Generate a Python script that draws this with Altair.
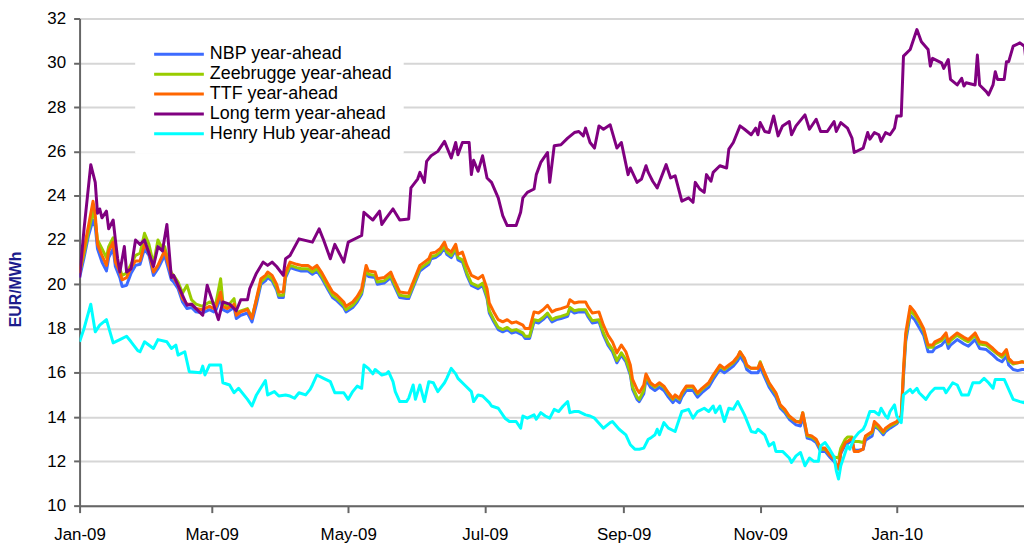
import altair as alt
import pandas as pd

SERIES = ["NBP year-ahead", "Zeebrugge year-ahead", "TTF year-ahead",
          "Long term year-ahead", "Henry Hub year-ahead"]
COLORS = ["#3d6bff", "#99cc00", "#ff6600", "#800080", "#00ffff"]

# (days since 2009-01-01, EUR/MWh)
TTF = [(0,20.5),(2,21.6),(4,22.65),(6,23.75),(7,23.15),(8,21.8),(10,21.3),(12,20.85),(13,21.5),(15,21.9),
       (16,21.0),(18,20.55),(19,20.2),(21,20.3),(23,20.75),(25,21.05),(27,21.05),(29,21.8),(31,21.45),(33,20.55),
       (35,20.85),(37,21.3),(38,21.5),(41,20.4),(42,20.3),(44,19.95),(46,19.35),(48,19.1),(50,19.1),(52,18.9),
       (55,18.85),(58,19.0),(60,18.9),(61,19.0),(63,19.65),(64,19.0),(66,18.9),(69,19.1),(70,18.6),(72,18.75),
       (75,18.85),(77,18.45),(79,19.35),(81,20.25),(83,20.4),(84,20.55),(86,20.4),(88,20.0),(89,19.65),(91,19.65),
       (92,20.55),(94,21.0),(97,20.9),(99,20.85),(102,20.85),(104,20.7),(106,20.85),(108,20.55),(111,20.0),(113,19.65),
       (115,19.5),(118,19.2),(119,19.0),(122,19.2),(124,19.45),(126,19.8),(128,20.85),(129,20.6),(132,20.55),(133,20.25),
       (136,20.3),(139,20.55),(140,20.3),(143,19.65),(146,19.6),(147,19.6),(149,20.1),(152,20.85),(154,21.0),(156,21.15),
       (157,21.4),(159,21.45),(161,21.6),(163,21.9),(164,21.6),(166,21.45),(168,21.8),(169,21.35),(171,21.45),(173,20.85),
       (175,20.4),(178,20.25),(180,20.4),(182,19.8),(183,19.15),(185,18.75),(187,18.4),(189,18.3),(191,18.4),(193,18.25),
       (195,18.3),(198,18.15),(199,18.0),(201,18.0),(203,18.75),(205,18.7),(207,18.85),(209,19.05),(211,18.75),(213,18.85),
       (215,18.9),(218,19.0),(219,19.3),(221,19.15),(223,19.2),(226,19.2),(227,19.0),(229,18.7),(232,18.75),(234,18.15),
       (236,17.7),(238,17.4),(240,16.9),(242,17.25),(244,16.95),(246,16.35),(247,15.7),(249,15.25),(250,15.1),(252,15.45),
       (253,15.95),(255,15.55),(257,15.4),(259,15.55),(261,15.4),(263,15.1),(265,14.85),(266,15.0),(268,14.85),(269,15.1),
       (271,15.4),(274,15.4),(276,15.1),(278,15.3),(281,15.55),(283,15.9),(286,16.35),(288,16.2),(290,16.35),(292,16.5),
       (294,16.75),(295,16.95),(297,16.65),(298,16.35),(300,16.2),(303,16.2),(304,16.45),(306,16.0),(308,15.55),(311,15.1),
       (313,14.55),(315,14.35),(317,14.05),(320,13.8),(322,13.75),(323,14.2),(325,13.2),(327,13.15),(329,13.0),(331,12.6),
       (333,12.6),(335,12.3),(337,12.1),(339,11.65),(340,12.4),(342,12.85),(343,12.9),(345,13.05),(346,12.45),(348,12.45),
       (350,12.55),(351,13.15),(354,13.35),(355,13.8),(357,13.6),(359,13.35),(360,13.5),(362,13.65),(365,13.8),(367,14.05),
       (368,16.15),(369,17.8),(371,19.0),(373,18.75),(375,18.4),(377,18.0),(379,17.25),(381,17.25),(382,17.4),(385,17.55),
       (387,17.8),(388,17.4),(389,17.55),(392,17.8),(395,17.6),(397,17.5),(400,17.8),(402,17.4),(405,17.35),(408,17.1),
       (410,16.9),(412,16.8),(414,17.05),(415,16.65),(417,16.45),(419,16.45),(421,16.5),(423,16.45)]

ZEE = [(0,20.5),(2,21.4),(4,22.4),(6,23.3),(7,22.9),(8,22.0),(10,21.6),(12,21.2),(13,21.7),(15,22.1),
       (16,21.3),(18,20.7),(19,20.4),(21,20.5),(23,20.9),(25,21.3),(27,21.4),(29,22.3),(31,21.8),(33,20.9),
       (35,22.0),(37,21.6),(38,21.7),(41,20.5),(42,20.4),(44,20.1),(46,19.6),(48,19.95),(50,19.3),(52,19.1),
       (55,19.0),(58,19.2),(60,19.1),(61,19.2),(63,20.25),(64,19.2),(66,19.0),(69,19.35),(70,18.7),(72,18.8),
       (75,18.9),(77,18.5),(79,19.3),(81,20.1),(83,20.3),(84,20.4),(86,20.25),(88,19.85),(89,19.5),(91,19.5),
       (92,20.4),(94,20.85),(97,20.75),(99,20.7),(102,20.7),(104,20.55),(106,20.7),(108,20.4),(111,19.85),(113,19.5),
       (115,19.35),(118,19.05),(119,18.85),(122,19.05),(124,19.3),(126,19.65),(128,20.7),(129,20.45),(132,20.4),(133,20.1),
       (136,20.15),(139,20.4),(140,20.15),(143,19.5),(146,19.45),(147,19.45),(149,19.95),(152,20.7),(154,20.85),(156,21.0),
       (157,21.25),(159,21.3),(161,21.45),(163,21.75),(164,21.45),(166,21.3),(168,21.65),(169,21.2),(171,21.1),(173,20.5),
       (175,20.05),(178,19.9),(180,20.05),(182,19.45),(183,18.8),(185,18.4),(187,18.05),(189,17.95),(191,18.05),(193,17.9),
       (195,17.95),(198,17.8),(199,17.65),(201,17.65),(203,18.4),(205,18.35),(207,18.5),(209,18.7),(211,18.4),(213,18.5),
       (215,18.55),(218,18.65),(219,18.95),(221,18.8),(223,18.85),(226,18.85),(227,18.65),(229,18.35),(232,18.4),(234,17.8),
       (236,17.35),(238,17.05),(240,16.55),(242,16.9),(244,16.6),(246,16.0),(247,15.35),(249,14.9),(250,14.8),(252,15.2),
       (253,15.85),(255,15.5),(257,15.35),(259,15.5),(261,15.35),(263,15.05),(265,14.8),(266,14.95),(268,14.8),(269,15.05),
       (271,15.35),(274,15.35),(276,15.05),(278,15.25),(281,15.5),(283,15.85),(286,16.3),(288,16.15),(290,16.3),(292,16.45),
       (294,16.7),(295,16.95),(297,16.6),(298,16.3),(300,16.2),(303,16.2),(304,16.5),(306,15.95),(308,15.5),(311,15.05),
       (313,14.5),(315,14.3),(317,14.0),(320,13.8),(322,13.8),(323,14.2),(325,13.15),(327,13.1),(329,12.95),(331,12.55),
       (333,12.55),(335,12.3),(337,12.2),(339,12.15),(340,12.6),(342,13.0),(343,13.1),(345,13.1),(346,12.9),(348,12.9),
       (350,12.85),(351,13.1),(354,13.3),(355,13.7),(357,13.5),(359,13.3),(360,13.45),(362,13.6),(365,13.75),(367,14.0),
       (368,16.0),(369,17.6),(371,18.8),(373,18.6),(375,18.3),(377,17.9),(379,17.15),(381,17.15),(382,17.3),(385,17.45),
       (387,17.7),(388,17.3),(389,17.45),(392,17.7),(395,17.5),(397,17.4),(400,17.7),(402,17.3),(405,17.25),(408,17.0),
       (410,16.85),(412,16.7),(414,16.95),(415,16.55),(417,16.4),(419,16.45),(421,16.5),(423,16.45)]

NBP = [(0,20.3),(2,21.2),(4,22.2),(6,22.9),(7,22.6),(8,21.6),(10,21.0),(12,20.6),(13,21.2),(15,21.6),
       (16,20.8),(18,20.3),(19,19.9),(21,19.95),(23,20.5),(25,20.85),(27,20.9),(29,21.6),(31,21.3),(33,20.4),
       (35,20.7),(37,21.1),(38,21.3),(41,20.2),(42,20.1),(44,19.8),(46,19.2),(48,18.9),(50,18.95),(52,18.75),
       (55,18.7),(58,18.85),(60,18.75),(61,18.85),(63,19.4),(64,18.85),(66,18.75),(69,18.95),(70,18.45),(72,18.6),
       (75,18.7),(77,18.3),(79,19.1),(81,20.0),(83,20.15),(84,20.3),(86,20.15),(88,19.75),(89,19.4),(91,19.4),
       (92,20.3),(94,20.75),(97,20.65),(99,20.6),(102,20.6),(104,20.45),(106,20.6),(108,20.3),(111,19.75),(113,19.4),
       (115,19.25),(118,18.95),(119,18.75),(122,18.95),(124,19.2),(126,19.55),(128,20.6),(129,20.35),(132,20.3),(133,20.0),
       (136,20.05),(139,20.3),(140,20.05),(143,19.4),(146,19.35),(147,19.35),(149,19.85),(152,20.6),(154,20.75),(156,20.9),
       (157,21.15),(159,21.2),(161,21.35),(163,21.65),(164,21.35),(166,21.2),(168,21.55),(169,21.1),(171,21.0),(173,20.4),
       (175,19.95),(178,19.8),(180,19.95),(182,19.35),(183,18.7),(185,18.3),(187,17.95),(189,17.85),(191,17.95),(193,17.8),
       (195,17.85),(198,17.7),(199,17.55),(201,17.55),(203,18.3),(205,18.25),(207,18.4),(209,18.6),(211,18.3),(213,18.4),
       (215,18.45),(218,18.55),(219,18.85),(221,18.7),(223,18.75),(226,18.75),(227,18.55),(229,18.25),(232,18.3),(234,17.7),
       (236,17.25),(238,16.95),(240,16.45),(242,16.8),(244,16.5),(246,15.9),(247,15.25),(249,14.8),(250,14.7),(252,15.05),
       (253,15.7),(255,15.35),(257,15.2),(259,15.35),(261,15.2),(263,14.9),(265,14.65),(266,14.8),(268,14.65),(269,14.9),
       (271,15.2),(274,15.2),(276,14.9),(278,15.1),(281,15.35),(283,15.7),(286,16.15),(288,16.0),(290,16.15),(292,16.3),
       (294,16.55),(295,16.75),(297,16.45),(298,16.15),(300,16.0),(303,16.0),(304,16.25),(306,15.8),(308,15.35),(311,14.9),
       (313,14.4),(315,14.2),(317,13.9),(320,13.65),(322,13.6),(323,14.05),(325,13.05),(327,13.0),(329,12.85),(331,12.45),
       (333,12.45),(335,12.2),(337,12.0),(339,11.7),(340,12.35),(342,12.75),(343,12.8),(345,12.95),(346,12.5),(348,12.5),
       (350,12.55),(351,12.95),(354,13.15),(355,13.6),(357,13.45),(359,13.2),(360,13.35),(362,13.5),(365,13.7),(367,13.95),
       (368,15.8),(369,17.4),(371,18.6),(373,18.4),(375,18.05),(377,17.7),(379,16.95),(381,16.95),(382,17.1),(385,17.25),
       (387,17.5),(388,17.1),(389,17.25),(392,17.5),(395,17.3),(397,17.2),(400,17.5),(402,17.1),(405,17.05),(408,16.8),
       (410,16.6),(412,16.5),(414,16.75),(415,16.35),(417,16.15),(419,16.1),(421,16.15),(423,16.15)]

LONG = [(0,20.3),(2,22.5),(5,25.4),(7,24.6),(8,23.2),(9,23.4),(10,23.0),(12,23.3),(13,22.5),(15,22.9),
        (16,22.0),(17,21.15),(18,20.55),(20,21.7),(21,20.55),(23,20.7),(25,22.0),(27,21.8),(29,22.0),(30,21.7),
        (33,20.8),(35,21.7),(37,21.5),(39,22.7),(41,20.3),(42,20.4),(44,19.95),(48,19.05),(50,19.1),(55,18.6),
        (57,19.95),(59,19.35),(62,18.4),(64,19.2),(67,19.1),(70,18.8),(72,19.3),(75,19.3),(76,19.8),(79,20.5),
        (82,21.0),(84,20.85),(86,21.0),(88,20.8),(91,20.4),(92,21.15),(94,21.3),(98,22.05),(104,21.9),(107,22.5),
        (109,22.0),(112,21.15),(114,21.8),(116,21.4),(118,21.0),(120,21.9),(126,22.2),(127,23.25),(131,22.9),(134,23.3),
        (135,22.7),(137,23.0),(140,23.4),(143,22.9),(147,22.95),(148,24.35),(151,24.75),(152,25.05),(154,24.6),(155,25.55),
        (157,25.8),(160,26.0),(163,26.45),(166,25.7),(168,26.4),(169,25.85),(171,26.4),(174,26.4),(175,24.95),(176,25.6),
        (178,25.1),(180,25.8),(182,24.8),(184,24.6),(187,23.9),(189,23.1),(191,22.65),(195,22.65),(197,23.25),(198,23.9),
        (200,24.15),(203,24.3),(204,24.95),(206,25.5),(209,25.95),(210,24.6),(212,26.25),(215,26.3),(218,26.6),(221,26.85),
        (223,26.9),(225,26.7),(226,27.05),(228,26.4),(230,26.15),(232,27.15),(234,27.0),(237,27.2),(240,26.15),(242,26.4),
        (245,24.95),(246,25.25),(249,24.6),(251,24.75),(253,25.35),(254,25.05),(256,24.65),(258,24.35),(262,25.4),(264,24.8),
        (266,24.9),(269,23.75),(272,23.9),(274,23.7),(275,24.6),(277,24.3),(279,24.15),(280,24.95),(282,24.65),(283,25.05),
        (286,25.35),(289,25.25),(290,26.1),(292,26.4),(295,27.15),(297,27.0),(300,26.75),(302,27.05),(303,26.75),(304,27.3),
        (306,26.9),(308,26.85),(310,27.6),(312,26.7),(314,27.15),(317,27.35),(318,26.75),(320,27.15),(324,27.65),(326,27.0),
        (329,27.45),(331,26.9),(334,26.9),(337,27.35),(338,26.9),(340,27.3),(343,27.05),(345,26.6),(346,25.95),(350,26.15),
        (352,26.85),(353,26.55),(355,26.85),(357,26.75),(358,26.45),(360,26.85),(362,26.75),(364,27.05),(365,27.6),(367,27.6),
        (368,30.3),(371,30.6),(374,31.5),(376,30.95),(379,30.6),(380,29.85),(381,30.2),(385,30.0),(386,29.75),(388,30.15),
        (389,29.25),(392,29.0),(394,29.3),(395,28.95),(396,29.1),(400,29.0),(401,30.35),(402,29.0),(405,28.7),(406,28.55),
        (408,29.0),(409,29.6),(410,29.25),(413,29.25),(414,30.05),(415,30.05),(417,30.75),(420,30.9),(422,30.75),(423,29.85)]

HH = [(0,17.4),(2,18.0),(5,19.1),(7,17.85),(9,18.15),(12,18.4),(15,17.35),(18,17.5),(21,17.65),(23,17.4),
      (26,17.0),(27,16.95),(29,17.4),(33,17.1),(35,17.5),(39,17.4),(41,17.1),(43,17.25),(44,16.8),(47,16.95),
      (49,16.05),(54,16.0),(55,16.3),(56,15.9),(58,16.35),(63,16.35),(64,15.55),(67,15.45),(69,15.1),(71,15.3),
      (75,14.8),(77,14.5),(79,15.0),(83,15.65),(84,15.0),(87,15.15),(89,14.95),(92,15.0),(94,14.95),(96,14.85),
      (98,15.1),(101,15.0),(103,15.25),(104,15.45),(106,15.9),(109,15.75),(112,15.6),(114,15.1),(116,15.1),(118,15.1),
      (120,14.8),(122,15.15),(124,15.4),(126,15.3),(127,16.35),(129,16.2),(131,15.95),(132,16.15),(135,15.9),(137,15.95),
      (138,16.05),(140,15.6),(141,15.15),(143,14.7),(146,14.7),(147,14.85),(149,15.45),(150,14.8),(152,15.45),(154,14.7),
      (156,15.6),(158,15.55),(160,15.15),(163,15.55),(164,15.75),(166,16.2),(168,15.95),(169,15.75),(172,15.45),(175,15.15),
      (176,14.7),(178,15.0),(180,14.95),(183,14.65),(184,14.5),(187,14.4),(190,13.95),(192,13.8),(195,13.8),(197,13.5),
      (198,14.05),(200,13.95),(203,14.1),(204,13.9),(206,14.2),(208,14.05),(210,13.95),(212,14.35),(214,14.25),(216,14.5),
      (218,14.7),(219,14.2),(221,14.25),(223,14.25),(226,14.1),(228,14.05),(230,13.95),(234,13.5),(237,13.75),(238,13.8),
      (241,13.45),(244,13.2),(246,12.75),(248,12.55),(250,12.55),(252,12.6),(254,13.0),(255,13.05),(257,13.2),(258,13.45),
      (259,13.2),(261,13.75),(263,13.5),(266,13.35),(267,13.65),(269,14.25),(272,14.35),(274,13.95),(276,14.25),(279,14.4),
      (281,14.25),(283,14.5),(284,14.2),(286,14.5),(288,13.8),(290,14.4),(292,14.35),(294,14.7),(297,14.1),(300,13.35),
      (302,13.3),(303,13.45),(306,13.2),(308,12.7),(310,12.85),(311,12.45),(314,12.45),(317,12.15),(318,11.95),(320,12.25),
      (322,12.4),(324,11.8),(326,12.15),(328,12.0),(330,12.0),(331,12.7),(333,12.85),(335,12.55),(337,12.2),(338,11.57),
      (339,11.2),(340,11.8),(343,12.7),(344,12.55),(346,13.05),(348,13.3),(350,13.45),(351,13.65),(353,14.25),(355,14.25),
      (357,14.1),(358,14.4),(360,14.05),(361,13.95),(362,14.25),(364,14.55),(365,14.05),(367,13.75),(368,15.0),(371,15.25),
      (372,15.1),(374,15.3),(375,15.1),(378,14.8),(380,15.1),(382,15.3),(386,15.3),(387,15.1),(390,15.55),(392,15.45),
      (394,15.0),(397,15.0),(399,15.55),(402,15.55),(404,15.75),(406,15.55),(408,15.3),(409,15.7),(413,15.7),(415,15.25),
      (417,14.8),(420,14.7),(422,14.65),(423,14.85)]

Y_TICKS = list(range(10, 33, 2))
X_TICKS = [(2009, 1), (2009, 3), (2009, 5), (2009, 7), (2009, 9), (2009, 11), (2010, 1)]

start = pd.Timestamp("2009-01-01")
rows = []
for name, pts in zip(SERIES, [NBP, ZEE, TTF, LONG, HH]):
    for d, v in pts:
        rows.append({"series": name,
                     "date": (start + pd.Timedelta(days=d)).strftime("%Y-%m-%dT00:00:00Z"),
                     "value": v})
df = pd.DataFrame(rows)

FONT = "Liberation Sans"

x_enc = alt.X(
    "date:T",
    scale=alt.Scale(type="utc", domain=[
        alt.DateTime(year=2009, month=1, date=1, utc=True),
        alt.DateTime(year=2010, month=2, date=26, hours=20, utc=True)]),
    axis=alt.Axis(
        title=None, grid=False,
        values=[alt.DateTime(year=y, month=m, date=1, utc=True) for y, m in X_TICKS],
        labelExpr="utcFormat(datum.value, '%b-%y')",
        labelFontSize=17, labelColor="#000000", labelFont=FONT, labelPadding=14,
        tickSize=7, tickColor="#666666", tickWidth=2,
        domainColor="#666666", domainWidth=2, labelFlush=False, labelOverlap=False),
)
y_enc = alt.Y(
    "value:Q",
    scale=alt.Scale(domain=[10, 32], nice=False, zero=False),
    axis=alt.Axis(
        title="EUR/MWh", titleFont=FONT, titleFontSize=16, titleFontWeight="bold",
        titleColor="#1c1c8c", titleX=-56, titleY=272, titleAngle=270,
        values=Y_TICKS, labelFontSize=17, labelFont=FONT, labelColor="#000000",
        labelPadding=8, tickSize=6, tickColor="#666666", tickWidth=2,
        domainColor="#666666", domainWidth=2,
        grid=True, gridColor="#d6d6d6", gridWidth=2),
)
color_enc = alt.Color(
    "series:N",
    scale=alt.Scale(domain=SERIES, range=COLORS),
    legend=alt.Legend(
        title=None, orient="none", legendX=56, legendY=17,
        symbolType="M0,0H10", symbolSize=100, symbolStrokeWidth=3,
        labelOffset=47, labelFontSize=18, labelFont=FONT, labelColor="#000000",
        labelLimit=0, rowPadding=2, padding=10, fillColor="white", strokeColor="white"),
)

layers = [
    alt.Chart(df).transform_filter(alt.datum.series == name)
    .mark_line(strokeWidth=3, clip=True, strokeJoin="round")
    .encode(x=x_enc, y=y_enc, color=color_enc)
    for name in SERIES
]

chart = alt.layer(*layers).properties(
    width=950, height=490,
    padding={"left": 0, "top": 0, "right": 0, "bottom": 0},
).configure_view(stroke=None).configure(background="white")

chart.save("out.html", embed_options={"renderer": "svg", "actions": False})
